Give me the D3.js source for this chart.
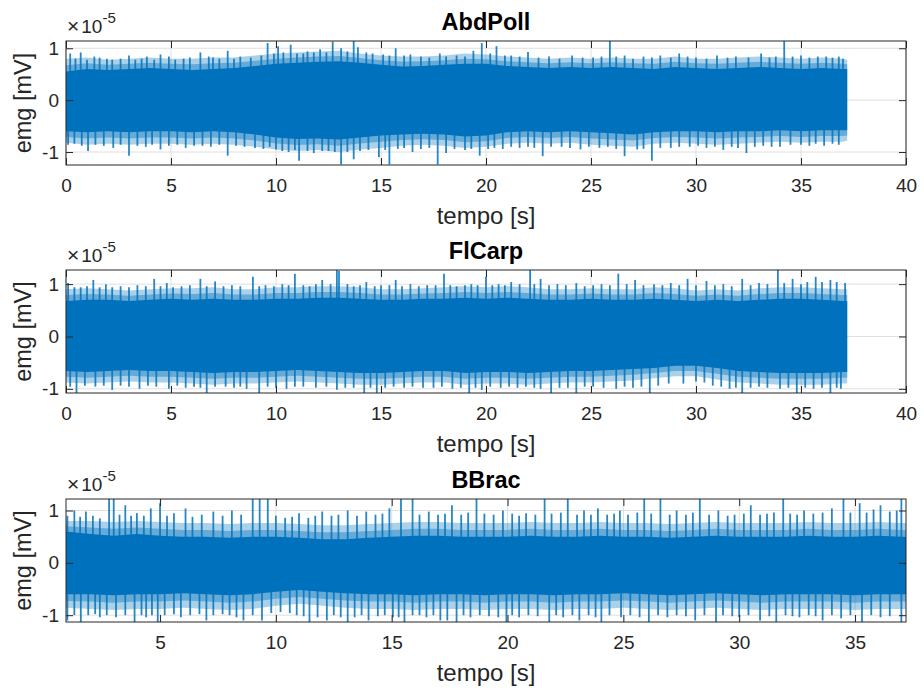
<!DOCTYPE html>
<html>
<head>
<meta charset="utf-8">
<script src="https://cdn.jsdelivr.net/npm/d3@7"></script>
<style>
body { margin: 0; background: #fff; }
text { font-family: 'Liberation Sans', Arial, Helvetica, sans-serif; fill: #262626; }
</style>
</head>
<body>
<svg width="924" height="693"></svg>
<script>
'use strict';

// ---- data (values in 1e-5 mV, time in s) ----
var titles = ['AbdPoll', 'FlCarp', 'BBrac'];
var xTicks12 = [0, 5, 10, 15, 20, 25, 30, 35, 40];
var xTicks3 = [5, 10, 15, 20, 25, 30, 35];
var yTicks = [-1, 0, 1];
var xLim1 = [0, 40], xLim2 = [0, 40], xLim3 = [0.94, 37.2];
var yLim1 = [-1.25, 1.14], yLim2 = [-1.08, 1.27], yLim3 = [-1.13, 1.22];

// envelope of the dense part of each trace, one value per second
var time1 = [0,1,2,3,4,5,6,7,8,9,10,11,12,13,14,15,16,17,18,19,20,21,22,23,24,25,26,27,28,29,30,31,32,33,34,35,36,37,37.2];
var coreHi1 = [0.55,0.6,0.58,0.6,0.62,0.6,0.58,0.6,0.62,0.66,0.7,0.72,0.74,0.75,0.72,0.68,0.65,0.66,0.68,0.7,0.7,0.66,0.64,0.62,0.64,0.62,0.64,0.62,0.6,0.64,0.62,0.6,0.62,0.64,0.62,0.6,0.62,0.6,0.6];
var coreLo1 = [-0.6,-0.62,-0.6,-0.62,-0.6,-0.6,-0.62,-0.6,-0.62,-0.66,-0.72,-0.75,-0.74,-0.76,-0.72,-0.68,-0.66,-0.65,-0.66,-0.7,-0.68,-0.62,-0.6,-0.62,-0.6,-0.62,-0.64,-0.66,-0.62,-0.6,-0.6,-0.62,-0.6,-0.6,-0.58,-0.6,-0.58,-0.58,-0.58];
var edgeHi1 = [0.8,0.82,0.78,0.8,0.82,0.8,0.8,0.82,0.82,0.86,0.9,0.92,0.94,0.95,0.9,0.86,0.84,0.84,0.86,0.9,0.88,0.84,0.82,0.8,0.82,0.8,0.82,0.8,0.8,0.84,0.8,0.8,0.82,0.84,0.82,0.8,0.82,0.8,0.78];
var edgeLo1 = [-0.82,-0.86,-0.84,-0.86,-0.84,-0.84,-0.86,-0.84,-0.86,-0.9,-0.95,-0.98,-0.96,-1.0,-0.95,-0.92,-0.88,-0.86,-0.88,-0.92,-0.9,-0.84,-0.82,-0.84,-0.82,-0.86,-0.88,-0.9,-0.84,-0.82,-0.84,-0.86,-0.84,-0.82,-0.8,-0.82,-0.8,-0.8,-0.78];
// individual spikes [t, value]
var peaksUp1 = [[0.2,0.9],[0.45,0.8],[0.7,0.92],[1.0,0.78],[1.35,0.84],[1.6,0.82],[1.95,0.8],[2.2,0.78],[2.6,0.8],[3.0,0.86],[3.3,0.78],[3.6,0.8],[3.85,0.84],[4.2,0.78],[4.5,0.88],[4.9,0.84],[5.2,0.78],[5.6,0.8],[5.9,0.82],[6.4,0.92],[6.8,0.84],[7.0,0.82],[7.3,0.8],[7.7,0.95],[8.0,0.8],[8.3,0.84],[8.8,0.82],[9.3,0.86],[9.6,1.1],[9.9,0.9],[10.1,1.04],[10.35,0.92],[10.7,1.07],[11.0,0.9],[11.3,0.9],[11.5,0.94],[11.8,0.92],[12.1,0.98],[12.4,0.92],[12.7,1.13],[13.1,1.0],[13.4,0.94],[13.7,1.14],[13.9,1.02],[14.3,0.92],[14.6,0.9],[15.1,0.88],[15.4,0.86],[15.7,1.0],[16.1,0.86],[16.4,0.88],[16.9,0.84],[17.3,0.82],[17.8,0.9],[18.1,0.84],[18.6,0.86],[19.0,0.84],[19.4,0.95],[19.8,1.1],[20.2,0.9],[20.5,1.04],[20.9,0.86],[21.2,0.86],[21.6,0.84],[22.0,0.93],[22.5,0.82],[23.0,0.84],[23.5,0.8],[24.1,0.86],[24.6,0.82],[25.1,0.82],[25.5,0.84],[25.9,1.16],[26.2,0.84],[26.6,0.86],[27.0,0.8],[27.5,0.84],[27.9,0.82],[28.3,0.86],[28.8,0.82],[29.2,0.9],[29.6,0.84],[30.0,0.82],[30.5,0.8],[31.0,0.86],[31.5,0.82],[31.9,0.84],[32.5,0.82],[33.1,0.9],[33.5,0.82],[33.8,0.84],[34.2,1.16],[34.6,0.84],[35.0,0.86],[35.4,0.82],[35.8,0.84],[36.2,0.84],[36.5,0.82],[36.8,0.84],[37.0,0.8]];
var peaksDn1 = [[0.1,-0.86],[0.4,-0.84],[0.75,-0.88],[1.05,-0.98],[1.4,-0.86],[1.8,-0.88],[2.25,-0.92],[2.6,-0.86],[3.0,-1.07],[3.4,-0.88],[3.8,-0.9],[4.1,-0.86],[4.5,-0.95],[4.9,-0.88],[5.3,-0.86],[5.7,-0.92],[6.1,-0.88],[6.5,-0.88],[6.9,-0.9],[7.3,-0.86],[7.7,-1.07],[8.1,-0.88],[8.5,-0.9],[9.0,-0.92],[9.4,-0.94],[9.7,-0.9],[10.0,-0.95],[10.3,-0.98],[10.6,-1.0],[10.9,-0.96],[11.1,-1.17],[11.5,-0.98],[11.8,-1.02],[12.2,-0.98],[12.5,-0.98],[12.8,-1.0],[13.1,-1.24],[13.4,-1.0],[13.7,-1.14],[14.0,-0.98],[14.4,-0.96],[14.9,-1.1],[15.2,-0.96],[15.4,-1.24],[15.8,-0.94],[16.1,-0.92],[16.5,-1.0],[16.9,-0.94],[17.3,-0.92],[17.7,-1.24],[18.1,-1.02],[18.5,-0.94],[19.0,-0.96],[19.3,-0.94],[19.7,-1.07],[20.1,-0.94],[20.4,-0.92],[20.8,-0.94],[21.2,-0.9],[21.6,-0.92],[22.0,-0.9],[22.3,-0.92],[22.7,-1.08],[23.1,-0.9],[23.6,-0.9],[24.0,-0.92],[24.5,-0.95],[24.9,-0.9],[25.4,-0.92],[25.8,-0.9],[26.2,-0.94],[26.6,-1.08],[27.2,-0.95],[27.5,-0.94],[27.9,-1.17],[28.3,-0.92],[28.8,-0.92],[29.2,-0.9],[29.7,-0.9],[30.1,-0.88],[30.5,-0.92],[30.9,-0.9],[31.3,-0.96],[31.7,-0.9],[32.0,-0.92],[32.4,-1.02],[32.8,-0.9],[33.2,-0.88],[33.6,-0.9],[34.0,-0.9],[34.5,-0.86],[35.0,-0.86],[35.4,-0.88],[35.7,-0.84],[36.1,-0.88],[36.5,-0.84],[36.8,-0.86]];

var time2 = time1;
var coreHi2 = [0.68,0.7,0.7,0.68,0.7,0.72,0.7,0.72,0.7,0.7,0.72,0.72,0.74,0.74,0.72,0.7,0.7,0.72,0.72,0.74,0.72,0.74,0.72,0.7,0.7,0.72,0.7,0.7,0.72,0.7,0.68,0.7,0.68,0.7,0.72,0.72,0.7,0.68,0.68];
var coreLo2 = [-0.66,-0.68,-0.66,-0.64,-0.66,-0.66,-0.68,-0.7,-0.68,-0.68,-0.66,-0.64,-0.66,-0.68,-0.7,-0.7,-0.68,-0.66,-0.66,-0.7,-0.68,-0.68,-0.7,-0.68,-0.66,-0.66,-0.64,-0.62,-0.6,-0.56,-0.56,-0.6,-0.66,-0.68,-0.7,-0.7,-0.7,-0.68,-0.68];
var edgeHi2 = [0.9,0.92,0.9,0.88,0.9,0.92,0.92,0.94,0.9,0.9,0.94,0.94,0.96,0.96,0.94,0.9,0.9,0.92,0.94,0.96,0.94,0.96,0.94,0.9,0.9,0.92,0.9,0.9,0.94,0.92,0.88,0.9,0.88,0.92,0.94,0.94,0.92,0.9,0.9];
var edgeLo2 = [-0.88,-0.9,-0.88,-0.86,-0.88,-0.88,-0.9,-0.92,-0.9,-0.9,-0.88,-0.86,-0.88,-0.9,-0.92,-0.92,-0.9,-0.88,-0.88,-0.92,-0.9,-0.9,-0.92,-0.9,-0.88,-0.88,-0.86,-0.84,-0.8,-0.76,-0.76,-0.82,-0.88,-0.9,-0.92,-0.92,-0.92,-0.9,-0.9];
var peaksUp2 = [[0.1,1.02],[0.4,0.94],[0.7,0.94],[1.0,0.96],[1.3,1.08],[1.6,0.94],[1.9,1.0],[2.2,0.94],[2.6,0.96],[3.0,0.94],[3.4,0.98],[3.8,0.96],[4.2,1.1],[4.5,0.96],[4.8,1.02],[5.1,0.94],[5.5,0.96],[5.9,0.98],[6.4,1.1],[6.7,0.96],[7.1,1.05],[7.5,0.96],[7.9,0.98],[8.3,0.96],[8.9,1.14],[9.2,0.96],[9.5,0.98],[9.9,0.96],[10.3,1.0],[10.6,0.98],[10.9,1.2],[11.3,0.98],[11.6,0.96],[11.9,1.0],[12.2,1.08],[12.6,1.0],[12.9,1.28],[13.0,1.25],[13.4,1.0],[13.7,0.96],[14.0,0.98],[14.3,1.04],[14.7,0.96],[15.0,0.98],[15.4,0.98],[15.7,1.08],[16.0,0.96],[16.4,1.0],[16.8,0.96],[17.2,0.98],[17.6,0.98],[18.0,1.2],[18.3,0.98],[18.6,0.96],[19.0,0.98],[19.3,1.0],[19.6,0.98],[20.0,1.14],[20.3,0.98],[20.6,1.0],[20.9,0.98],[21.2,1.04],[21.6,1.0],[22.1,1.28],[22.3,1.0],[22.6,1.1],[23.0,0.98],[23.4,1.0],[23.8,0.98],[24.3,1.02],[24.7,0.96],[25.1,0.98],[25.5,1.0],[25.9,0.98],[26.3,1.2],[26.7,1.0],[27.1,1.08],[27.5,0.98],[28.0,1.0],[28.4,0.98],[28.8,1.02],[29.2,0.98],[29.6,1.1],[30.0,0.98],[30.5,1.06],[30.9,0.98],[31.3,1.0],[31.7,0.96],[32.2,1.1],[32.6,0.98],[33.0,1.02],[33.4,1.0],[33.9,1.28],[34.2,1.02],[34.6,1.1],[35.0,1.0],[35.3,1.04],[35.7,1.14],[36.0,1.04],[36.4,1.08],[36.7,1.04],[37.1,1.02]];
var peaksDn2 = [[0.2,-0.96],[0.5,-1.1],[0.9,-0.94],[1.4,-0.96],[1.8,-0.94],[2.2,-1.02],[2.6,-0.94],[3.0,-0.96],[3.5,-1.0],[3.9,-0.94],[4.3,-0.96],[4.9,-1.0],[5.3,-0.94],[5.7,-0.98],[6.1,-0.96],[6.4,-0.98],[6.7,-1.1],[7.1,-0.96],[7.6,-0.96],[8.0,-0.98],[8.3,-0.96],[8.6,-1.0],[9.2,-1.1],[9.6,-0.96],[10.0,-0.98],[10.5,-1.0],[10.9,-0.96],[11.3,-0.96],[11.9,-0.98],[12.4,-0.96],[12.9,-1.02],[13.3,-0.98],[13.7,-0.98],[14.2,-1.1],[14.5,-0.98],[14.8,-1.1],[15.2,-0.98],[15.6,-0.96],[16.1,-0.98],[16.5,-0.96],[17.0,-0.98],[17.5,-0.98],[17.9,-0.96],[18.4,-1.0],[18.8,-0.98],[19.2,-1.1],[19.5,-0.98],[19.8,-1.02],[20.2,-0.96],[20.7,-0.98],[21.1,-0.96],[21.5,-0.98],[21.9,-0.96],[22.3,-0.98],[22.6,-1.0],[23.1,-1.1],[23.5,-0.98],[23.9,-0.98],[24.3,-1.1],[24.7,-0.96],[25.1,-0.96],[25.6,-0.98],[26.2,-1.0],[26.6,-0.96],[27.0,-0.98],[27.4,-0.96],[27.8,-1.1],[28.2,-0.94],[28.7,-0.9],[29.4,-0.9],[30.0,-0.86],[30.4,-0.88],[30.8,-0.94],[31.2,-0.96],[31.6,-1.0],[31.9,-0.98],[32.2,-1.1],[32.6,-0.98],[33.0,-0.96],[33.4,-0.98],[34.0,-1.0],[34.4,-0.98],[34.8,-1.1],[35.2,-0.98],[35.6,-1.0],[36.0,-0.98],[36.4,-1.1],[36.7,-0.98],[36.9,-1.0]];

var time3 = [0.94,2,3,4,5,6,7,8,9,10,11,12,13,14,15,16,17,18,19,20,21,22,23,24,25,26,27,28,29,30,31,32,33,34,35,36,37,37.2];
var coreHi3 = [0.6,0.55,0.52,0.55,0.52,0.5,0.5,0.48,0.5,0.5,0.48,0.45,0.45,0.48,0.5,0.52,0.52,0.5,0.5,0.5,0.52,0.5,0.5,0.52,0.5,0.5,0.48,0.5,0.52,0.5,0.5,0.5,0.52,0.5,0.5,0.52,0.5,0.5];
var coreLo3 = [-0.6,-0.6,-0.62,-0.6,-0.6,-0.58,-0.6,-0.62,-0.6,-0.55,-0.52,-0.55,-0.58,-0.6,-0.6,-0.62,-0.6,-0.6,-0.62,-0.6,-0.6,-0.62,-0.6,-0.6,-0.58,-0.6,-0.62,-0.6,-0.58,-0.6,-0.62,-0.6,-0.6,-0.6,-0.62,-0.6,-0.6,-0.6];
var edgeHi3 = [0.8,0.8,0.78,0.8,0.78,0.76,0.76,0.74,0.76,0.76,0.74,0.72,0.72,0.74,0.76,0.78,0.78,0.76,0.76,0.76,0.78,0.76,0.76,0.78,0.76,0.76,0.74,0.76,0.78,0.76,0.76,0.76,0.78,0.76,0.76,0.78,0.76,0.76];
var edgeLo3 = [-0.86,-0.88,-0.9,-0.88,-0.88,-0.86,-0.88,-0.9,-0.88,-0.82,-0.78,-0.82,-0.86,-0.88,-0.88,-0.9,-0.88,-0.88,-0.9,-0.88,-0.88,-0.9,-0.88,-0.88,-0.86,-0.88,-0.9,-0.88,-0.86,-0.88,-0.9,-0.88,-0.88,-0.88,-0.9,-0.88,-0.88,-0.88];
var peaksUp3 = [[1.0,0.9],[1.3,1.0],[1.55,0.88],[1.8,0.98],[2.1,0.9],[2.4,0.85],[2.8,1.25],[3.0,1.25],[3.25,0.92],[3.5,1.1],[3.75,0.9],[4.0,0.95],[4.3,0.9],[4.6,1.04],[5.0,1.14],[5.3,0.9],[5.6,0.95],[6.1,1.04],[6.4,0.88],[6.8,0.92],[7.3,0.98],[7.7,0.9],[8.1,1.0],[8.5,0.92],[9.0,1.25],[9.3,1.25],[9.65,1.25],[10.0,0.9],[10.4,0.86],[10.7,0.88],[11.0,0.95],[11.4,0.86],[11.7,0.9],[12.0,0.98],[12.4,0.9],[12.7,0.92],[13.1,1.0],[13.5,0.9],[13.9,0.98],[14.3,0.92],[14.6,0.94],[14.9,1.04],[15.4,1.25],[15.9,1.25],[16.2,0.92],[16.6,0.98],[17.0,0.92],[17.3,0.94],[17.6,1.1],[18.0,0.92],[18.3,0.96],[18.66,1.25],[19.0,0.94],[19.4,0.92],[19.8,1.0],[20.2,0.94],[20.5,0.9],[20.8,0.95],[21.2,0.92],[21.6,1.25],[21.9,0.94],[22.3,0.96],[22.6,1.25],[23.0,0.92],[23.3,1.0],[23.6,0.92],[23.9,1.04],[24.3,0.92],[24.6,0.94],[24.85,1.0],[25.2,0.92],[25.6,0.96],[25.9,1.25],[26.2,0.94],[26.6,1.25],[27.0,0.92],[27.3,1.0],[27.7,0.92],[28.0,0.96],[28.3,1.25],[28.7,0.92],[29.1,1.0],[29.5,0.9],[29.8,0.92],[30.2,0.94],[30.5,1.1],[30.9,0.92],[31.2,0.94],[31.5,0.96],[31.9,1.25],[32.2,0.94],[32.5,0.92],[32.8,1.0],[33.2,0.94],[33.6,0.96],[34.0,1.04],[34.5,1.25],[34.8,0.96],[35.2,1.14],[35.5,0.96],[35.8,1.02],[36.1,1.1],[36.5,0.98],[36.8,1.0],[37.0,1.25]];
var peaksDn3 = [[1.0,-1.1],[1.3,-1.0],[1.58,-1.2],[1.9,-1.0],[2.2,-0.98],[2.4,-1.04],[2.7,-1.0],[3.1,-1.04],[3.5,-1.0],[3.9,-1.2],[4.2,-1.0],[4.4,-1.04],[4.65,-1.0],[4.9,-1.2],[5.2,-1.0],[5.6,-0.98],[5.9,-1.04],[6.3,-1.0],[6.7,-0.98],[7.0,-1.1],[7.3,-1.0],[7.7,-0.98],[8.0,-1.0],[8.3,-1.04],[8.6,-1.1],[9.0,-1.0],[9.4,-1.1],[9.8,-0.96],[10.2,-0.94],[10.6,-0.96],[10.9,-1.0],[11.2,-1.02],[11.45,-1.2],[11.8,-1.04],[12.2,-1.1],[12.5,-1.0],[12.8,-1.04],[13.1,-1.2],[13.4,-1.04],[13.7,-1.0],[14.0,-1.1],[14.4,-1.02],[14.7,-1.0],[15.05,-1.04],[15.3,-1.04],[15.55,-1.2],[15.9,-1.0],[16.2,-1.0],[16.5,-1.04],[16.8,-1.0],[17.1,-1.1],[17.4,-1.1],[17.8,-1.2],[18.1,-1.0],[18.4,-1.04],[18.8,-1.0],[19.2,-1.02],[19.6,-1.04],[19.95,-1.2],[20.2,-1.0],[20.5,-1.04],[20.9,-1.0],[21.3,-1.02],[21.8,-1.2],[22.1,-1.0],[22.4,-1.04],[22.8,-1.0],[23.1,-1.1],[23.5,-1.0],[23.8,-1.04],[24.05,-1.2],[24.4,-1.0],[24.9,-1.04],[25.3,-1.0],[25.7,-1.04],[26.1,-1.2],[26.5,-1.0],[26.9,-1.04],[27.3,-1.0],[27.7,-1.02],[28.1,-1.1],[28.5,-1.0],[29.0,-1.2],[29.3,-1.0],[29.7,-1.02],[30.0,-1.04],[30.4,-1.0],[30.9,-1.1],[31.3,-1.02],[31.6,-1.2],[32.0,-1.0],[32.3,-1.02],[32.6,-1.04],[33.0,-1.0],[33.3,-1.02],[33.6,-1.1],[34.0,-1.0],[34.4,-1.06],[34.8,-1.0],[35.3,-1.2],[35.7,-1.0],[36.1,-1.04],[36.5,-1.02],[37.0,-1.2]];

// ---- layout ----
var svg = d3.select('svg'),
    left = 66,
    right = 906,
    blue = '#0072bd',
    ink = '#262626',
    gridColor = '#dfdfdf',
    tickLen = 7;

var panels = [
    {title: titles[0], top: 41, bottom: 165, xLim: xLim1, xTicks: xTicks12, yLim: yLim1,
     t: time1, coreHi: coreHi1, coreLo: coreLo1, edgeHi: edgeHi1, edgeLo: edgeLo1, up: peaksUp1, dn: peaksDn1},
    {title: titles[1], top: 270, bottom: 393, xLim: xLim2, xTicks: xTicks12, yLim: yLim2,
     t: time2, coreHi: coreHi2, coreLo: coreLo2, edgeHi: edgeHi2, edgeLo: edgeLo2, up: peaksUp2, dn: peaksDn2},
    {title: titles[2], top: 499, bottom: 622, xLim: xLim3, xTicks: xTicks3, yLim: yLim3,
     t: time3, coreHi: coreHi3, coreLo: coreLo3, edgeHi: edgeHi3, edgeLo: edgeLo3, up: peaksUp3, dn: peaksDn3}
];

svg.append('rect').attr('width', 924).attr('height', 693).attr('fill', '#fff');

panels.forEach(function(p, i) {
    var x = d3.scaleLinear().domain(p.xLim).range([left, right]);
    var y = d3.scaleLinear().domain(p.yLim).range([p.bottom, p.top]);
    var g = svg.append('g');
    var clipId = 'clip' + i;

    g.append('clipPath').attr('id', clipId)
        .append('rect')
        .attr('x', left).attr('y', p.top)
        .attr('width', right - left).attr('height', p.bottom - p.top);

    // grid
    g.selectAll('.gx').data(p.xTicks).enter().append('line')
        .attr('x1', x).attr('x2', x)
        .attr('y1', p.top).attr('y2', p.bottom)
        .attr('stroke', gridColor);
    g.selectAll('.gy').data(yTicks).enter().append('line')
        .attr('x1', left).attr('x2', right)
        .attr('y1', y).attr('y2', y)
        .attr('stroke', gridColor);

    var plot = g.append('g').attr('clip-path', 'url(#' + clipId + ')');
    var idx = d3.range(p.t.length);

    // outer fringe of the signal, denser towards the core
    plot.append('path')
        .attr('d', d3.area()
            .x(function(j) { return x(p.t[j]); })
            .y0(function(j) { return y(p.edgeLo[j]); })
            .y1(function(j) { return y(p.edgeHi[j]); })(idx))
        .attr('fill', blue)
        .attr('opacity', 0.33);
    plot.append('path')
        .attr('d', d3.area()
            .x(function(j) { return x(p.t[j]); })
            .y0(function(j) { return y((p.edgeLo[j] + p.coreLo[j]) / 2); })
            .y1(function(j) { return y((p.edgeHi[j] + p.coreHi[j]) / 2); })(idx))
        .attr('fill', blue)
        .attr('opacity', 0.4);

    // spikes
    plot.selectAll('.spike')
        .data(p.up.concat(p.dn))
        .enter().append('line')
        .attr('class', 'spike')
        .attr('x1', function(d) { return x(d[0]); })
        .attr('x2', function(d) { return x(d[0]); })
        .attr('y1', y(0))
        .attr('y2', function(d) { return y(d[1]); })
        .attr('stroke', blue)
        .attr('stroke-opacity', 0.85)
        .attr('stroke-width', 1.8);

    // dense core
    plot.append('path')
        .attr('d', d3.area()
            .x(function(j) { return x(p.t[j]); })
            .y0(function(j) { return y(p.coreLo[j]); })
            .y1(function(j) { return y(p.coreHi[j]); })(idx))
        .attr('fill', blue);

    // axes, ticks inside
    var bottomAxis = g.append('g')
        .attr('transform', 'translate(0,' + p.bottom + ')')
        .call(d3.axisBottom(x).tickValues(p.xTicks).tickSize(-tickLen).tickPadding(14)
            .tickFormat(function(d) { return String(d); }));
    var leftAxis = g.append('g')
        .attr('transform', 'translate(' + left + ',0)')
        .call(d3.axisLeft(y).tickValues(yTicks).tickSize(-tickLen).tickPadding(7)
            .tickFormat(function(d) { return String(d); }));
    var topAxis = g.append('g')
        .attr('transform', 'translate(0,' + p.top + ')')
        .call(d3.axisTop(x).tickValues(p.xTicks).tickSize(-tickLen).tickFormat(''));
    var rightAxis = g.append('g')
        .attr('transform', 'translate(' + right + ',0)')
        .call(d3.axisRight(y).tickValues(yTicks).tickSize(-tickLen).tickFormat(''));

    [bottomAxis, leftAxis, topAxis, rightAxis].forEach(function(a) {
        a.select('.domain').remove();
        a.selectAll('line').attr('stroke', ink);
        a.selectAll('text')
            .attr('fill', ink)
            .style('font-size', '19px')
            .style('font-family', "'Liberation Sans', Arial, sans-serif");
    });

    g.append('rect')
        .attr('x', left).attr('y', p.top)
        .attr('width', right - left).attr('height', p.bottom - p.top)
        .attr('fill', 'none')
        .attr('stroke', ink)
        .attr('stroke-width', 1);

    // title
    g.append('text')
        .attr('x', (left + right) / 2)
        .attr('y', p.top - 11)
        .attr('text-anchor', 'middle')
        .style('font-size', '23.5px')
        .style('font-weight', 'bold')
        .style('fill', '#000')
        .text(p.title);

    // exponent
    var ex = g.append('text')
        .attr('x', left + 1)
        .attr('y', p.top - 8)
        .style('font-size', '19px');
    ex.append('tspan').style('font-size', '21px').text('\u00d7');
    ex.append('tspan').attr('dx', 2).text('10');
    ex.append('tspan').attr('dy', -10).style('font-size', '15px').text('-5');

    // x label
    g.append('text')
        .attr('x', (left + right) / 2)
        .attr('y', p.bottom + 59)
        .attr('text-anchor', 'middle')
        .style('font-size', '24px')
        .text('tempo [s]');

    // y label
    g.append('text')
        .attr('transform', 'translate(31,' + ((p.top + p.bottom) / 2) + ') rotate(-90)')
        .attr('text-anchor', 'middle')
        .style('font-size', '23.5px')
        .text('emg [mV]');
});
</script>
</body>
</html>
